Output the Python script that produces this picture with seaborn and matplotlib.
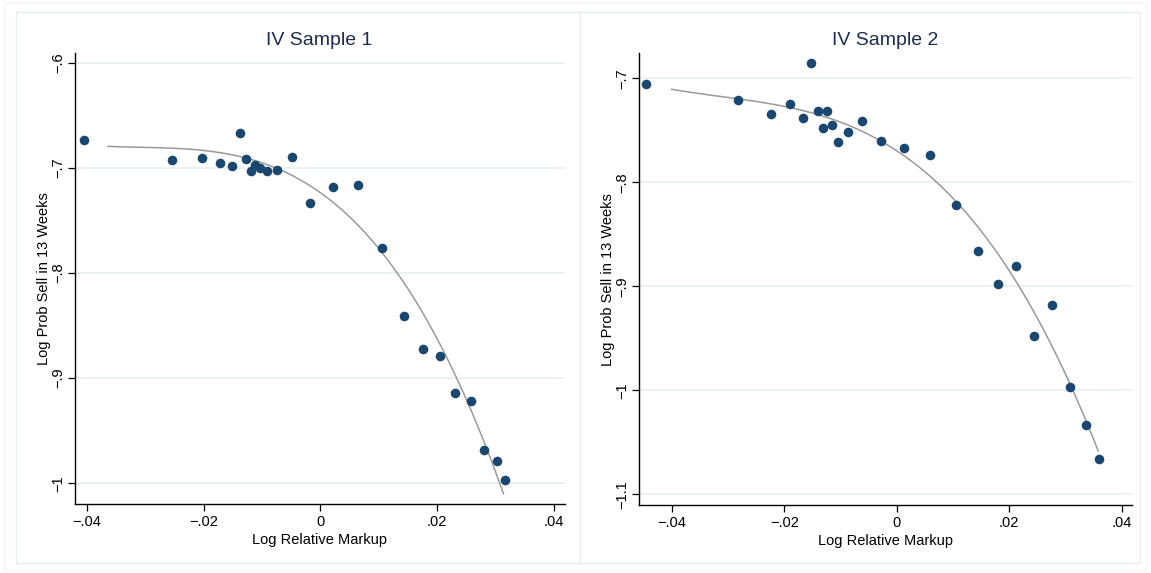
import numpy as np
import pandas as pd
import matplotlib
matplotlib.use('Agg')
import matplotlib.pyplot as plt
import seaborn as sns
from matplotlib.patches import Rectangle


# -------------------------------------------------------
# DATA
# -------------------------------------------------------

# IV sample 1 - binned scatter
s1_x = [-0.04045, -0.02548, -0.02029, -0.01721, -0.01515, -0.01373, -0.01271, -0.01190,
        -0.01122, -0.01036, -0.00921, -0.00740, -0.00493, -0.00180, 0.00209, 0.00637,
        0.01058, 0.01435, 0.01755, 0.02046, 0.02308, 0.02572, 0.02805, 0.03017, 0.03154]
s1_y = [-0.6736, -0.6926, -0.6902, -0.6955, -0.6984, -0.6669, -0.6914, -0.7032,
        -0.6974, -0.7000, -0.7026, -0.7016, -0.6895, -0.7334, -0.7186, -0.7159,
        -0.7764, -0.8410, -0.8728, -0.8788, -0.9138, -0.9215, -0.9683, -0.9790, -0.9972]

# IV sample 1 - fitted curve
s1_fit_x = [-0.03644, -0.03034, -0.02178, -0.01322, -0.00750, -0.00123, 0.00476,
            0.01075, 0.01647, 0.02103, 0.02560, 0.02846, 0.03137]
s1_fit_y = [-0.6806, -0.6793, -0.6819, -0.6898, -0.7003, -0.7194, -0.7487,
            -0.7814, -0.8260, -0.8737, -0.9279, -0.9661, -1.0119]

# IV sample 2 - binned scatter
s2_x = [-0.04455, -0.02830, -0.02246, -0.01907, -0.01675, -0.01521, -0.01407, -0.01318,
        -0.01246, -0.01157, -0.01050, -0.00866, -0.00611, -0.00277, 0.00134, 0.00593,
        0.01045, 0.01450, 0.01800, 0.02116, 0.02437, 0.02759, 0.03075, 0.03361, 0.03593]
s2_y = [-0.7058, -0.7212, -0.7346, -0.7250, -0.7382, -0.6853, -0.7317, -0.7481,
        -0.7314, -0.7452, -0.7613, -0.7516, -0.7408, -0.7606, -0.7667, -0.7735,
        -0.8221, -0.8658, -0.8975, -0.8808, -0.9475, -0.9183, -0.9965, -1.0334, -1.0658]

# IV sample 2 - fitted curve
s2_fit_x = [-0.04009, -0.03111, -0.01920, -0.01027, -0.00254, 0.00164, 0.01045,
            0.01473, 0.02068, 0.02545, 0.03075, 0.03586]
s2_fit_y = [-0.7125, -0.7160, -0.7240, -0.7417, -0.7641, -0.7785, -0.8221,
            -0.8458, -0.8843, -0.9292, -0.9965, -1.0606]

titles = ['IV Sample 1', 'IV Sample 2']
x_label = 'Log Relative Markup'
y_label = 'Log Prob Sell in 13 Weeks'

x_ticks = [-0.04, -0.02, 0, 0.02, 0.04]
x_tick_labels = ['\u2212.04', '\u2212.02', '0', '.02', '.04']
s1_y_ticks = [-0.6, -0.7, -0.8, -0.9, -1.0]
s1_y_tick_labels = ['\u2212.6', '\u2212.7', '\u2212.8', '\u2212.9', '\u22121']
s2_y_ticks = [-0.7, -0.8, -0.9, -1.0, -1.1]
s2_y_tick_labels = ['\u2212.7', '\u2212.8', '\u2212.9', '\u22121', '\u22121.1']


# -------------------------------------------------------
# STYLE
# -------------------------------------------------------

sns.set_theme(style='white')
plt.rcParams['font.family'] = ['Liberation Sans', 'DejaVu Sans']

navy = '#1a476f'
fit_gray = '#9a9a9a'
grid_col = '#e8f0f2'
border_col = '#e6eef0'
title_col = '#1c2d4f'

fig = plt.figure(figsize=(11.51, 5.73), dpi=100)
W, H = 1151, 573


def px_axes(x0, y0, x1, y1):
    # axes from pixel box (top-left origin)
    return fig.add_axes([x0 / W, 1 - y1 / H, (x1 - x0) / W, (y1 - y0) / H])


# panel borders (graph combine look)
fig.patches.append(Rectangle((4 / W, 1 - 570 / H), 1142 / W, 567 / H, transform=fig.transFigure,
                             fill=False, edgecolor='#f0f4f5', lw=1))
fig.patches.append(Rectangle((16 / W, 1 - 563 / H), 564 / W, 551 / H, transform=fig.transFigure,
                             fill=False, edgecolor=border_col, lw=1))
fig.patches.append(Rectangle((580 / W, 1 - 563 / H), 560 / W, 551 / H, transform=fig.transFigure,
                             fill=False, edgecolor=border_col, lw=1))

ax1 = px_axes(74.7, 53.3, 564.5, 504)
ax2 = px_axes(638.5, 53.3, 1131.6, 505)

panels = [
    (ax1, s1_x, s1_y, s1_fit_x, s1_fit_y, s1_y_ticks, s1_y_tick_labels, (-0.0421, 0.0418), (-1.0198, -0.591)),
    (ax2, s2_x, s2_y, s2_fit_x, s2_fit_y, s2_y_ticks, s2_y_tick_labels, (-0.04595, 0.04178), (-1.1103, -0.676)),
]

for i, (ax, sx, sy, fx, fy, yt, ytl, xlim, ylim) in enumerate(panels):
    fit_df = pd.DataFrame({'x': fx, 'y': fy})
    pts_df = pd.DataFrame({'x': sx, 'y': sy})

    # fitted curve (smooth cubic through the read curve points)
    sns.regplot(data=fit_df, x='x', y='y', order=3, scatter=False, ci=None, truncate=True,
                line_kws={'color': fit_gray, 'lw': 1.1, 'zorder': 2}, ax=ax)
    sns.scatterplot(data=pts_df, x='x', y='y', color=navy, s=48, linewidth=0, zorder=3, ax=ax)

    ax.set_xlim(*xlim)
    ax.set_ylim(*ylim)
    ax.set_xticks(x_ticks)
    ax.set_xticklabels(x_tick_labels)
    ax.set_yticks(yt)
    ax.set_yticklabels(ytl, rotation=90, va='center')

    ax.grid(axis='y', color=grid_col, lw=1.2)
    ax.grid(axis='x', visible=False)
    ax.set_axisbelow(True)

    for side in ['top', 'right']:
        ax.spines[side].set_visible(False)
    for side in ['left', 'bottom']:
        ax.spines[side].set_color('black')
        ax.spines[side].set_linewidth(1.0)

    ax.tick_params(axis='both', which='major', direction='out', length=5, width=0.9,
                   color='black', labelsize=10.5, labelcolor='black', left=True, bottom=True)
    ax.tick_params(axis='x', pad=3)
    ax.tick_params(axis='y', pad=2)

    ax.set_xlabel(x_label, fontsize=10.5, color='black', labelpad=3)
    ax.set_ylabel(y_label, fontsize=10.5, color='black', labelpad=0)
    ax.set_title(titles[i], fontsize=14, color=title_col, pad=6)

fig.savefig('out.png', dpi=100, facecolor='white')
